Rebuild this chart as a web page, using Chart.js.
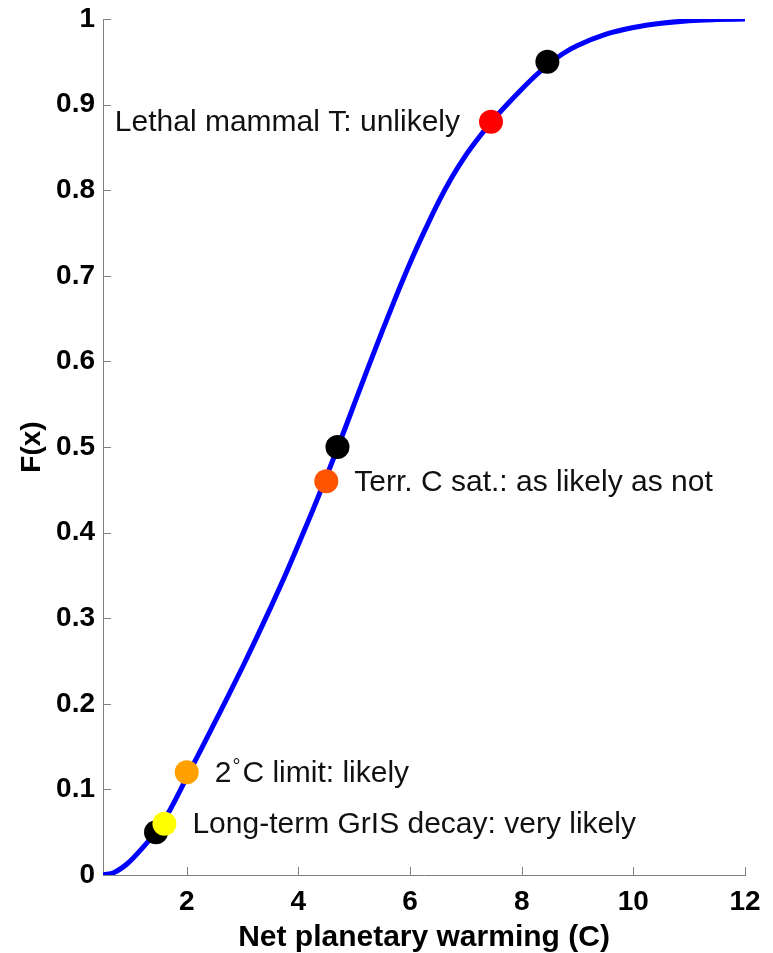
<!DOCTYPE html>
<html>
<head>
<meta charset="utf-8">
<script src="https://cdn.jsdelivr.net/npm/chart.js@4.4.0/dist/chart.umd.min.js"></script>
<style>
  html, body { margin: 0; padding: 0; background: #ffffff; }
  #wrap { width: 773px; height: 953px; }
</style>
</head>
<body>
<div id="wrap"><canvas id="cdf" width="773" height="953"></canvas></div>
<script>
// Cumulative distribution of net planetary warming
const warmingX = [0.5, 0.7, 0.95, 1.2, 1.45, 1.7, 2.0, 2.25, 2.5, 2.75, 3.0, 3.25, 3.5, 3.75, 4.0, 4.25, 4.5, 4.75, 5.0, 5.25, 5.5, 5.75, 6.0, 6.25, 6.5, 6.75, 7.0, 7.25, 7.5, 7.75, 8.0, 8.25, 8.5, 8.75, 9.0, 9.5, 10.0, 10.5, 11.0, 11.5, 12.0];
const cdfY     = [0, 0.003, 0.014, 0.031, 0.051, 0.076, 0.114, 0.146, 0.178, 0.210, 0.243, 0.277, 0.312, 0.348, 0.386, 0.425, 0.465, 0.507, 0.550, 0.593, 0.635, 0.676, 0.715, 0.751, 0.785, 0.815, 0.841, 0.863, 0.883, 0.901, 0.918, 0.934, 0.948, 0.960, 0.969, 0.982, 0.990, 0.995, 0.998, 0.9993, 1.0];

// 5%, 50% and 95% quantiles
const quantileX = [1.45, 4.7, 8.46];
const quantileY = [0.05, 0.5, 0.95];

// Threshold events and their likelihood
const eventLabels = ['Long-term GrIS decay: very likely', '2°C limit: likely', 'Terr. C sat.: as likely as not', 'Lethal mammal T: unlikely'];
const eventX = [1.6, 2.0, 4.5, 7.45];
const eventY = [0.06, 0.12, 0.46, 0.88];

// Axis ticks
const xTicks = [2, 4, 6, 8, 10, 12];
const yTicks = [0, 0.1, 0.2, 0.3, 0.4, 0.5, 0.6, 0.7, 0.8, 0.9, 1];

// ---- styling ----
const eventColors = ['#ffff00', '#ffa000', '#ff5500', '#ff0000'];
const labelOnLeft = [false, false, false, true];
const FONT = '"Liberation Sans", Arial, Helvetica, sans-serif';
const AXIS_GREY = '#808080';

const curveData = warmingX.map((x, i) => ({ x: x, y: cdfY[i] }));
const quantileData = quantileX.map((x, i) => ({ x: x, y: quantileY[i] }));

const eventDatasets = eventX.map((x, i) => ({
  label: eventLabels[i],
  data: [{ x: x, y: eventY[i] }],
  showLine: false,
  pointRadius: 12,
  pointHoverRadius: 12,
  pointBackgroundColor: eventColors[i],
  pointBorderWidth: 0,
  order: 1
}));

// Tick marks drawn inward from the axes
const innerTicks = {
  id: 'innerTicks',
  afterDraw(chart) {
    const { ctx, chartArea, scales } = chart;
    ctx.save();
    ctx.strokeStyle = AXIS_GREY;
    ctx.lineWidth = 1;
    ctx.beginPath();
    xTicks.forEach(v => {
      const px = Math.round(scales.x.getPixelForValue(v)) + 0.5;
      ctx.moveTo(px, chartArea.bottom);
      ctx.lineTo(px, chartArea.bottom - 8);
    });
    yTicks.forEach(v => {
      const py = Math.round(scales.y.getPixelForValue(v)) + 0.5;
      ctx.moveTo(chartArea.left, py);
      ctx.lineTo(chartArea.left + 8, py);
    });
    ctx.stroke();
    ctx.restore();
  }
};

// Event captions beside each coloured marker
const eventCaptions = {
  id: 'eventCaptions',
  afterDatasetsDraw(chart) {
    const { ctx, scales } = chart;
    ctx.save();
    ctx.fillStyle = '#111111';
    ctx.textBaseline = 'middle';
    eventLabels.forEach((text, i) => {
      const px = scales.x.getPixelForValue(eventX[i]);
      const py = scales.y.getPixelForValue(eventY[i]) + 1;
      ctx.font = '30px ' + FONT;
      if (labelOnLeft[i]) {
        ctx.textAlign = 'right';
        ctx.fillText(text, px - 31, py);
        return;
      }
      ctx.textAlign = 'left';
      let cx = px + 28;
      const deg = text.indexOf('°');
      if (deg < 0) {
        ctx.fillText(text, cx, py);
        return;
      }
      const head = text.slice(0, deg);
      const tail = text.slice(deg + 1);
      ctx.fillText(head, cx, py);
      cx += ctx.measureText(head).width + 1;
      ctx.font = '20px ' + FONT;
      ctx.fillText('°', cx, py - 6);
      cx += ctx.measureText('°').width + 2;
      ctx.font = '30px ' + FONT;
      ctx.fillText(tail, cx, py);
    });
    ctx.restore();
  }
};

new Chart(document.getElementById('cdf'), {
  type: 'scatter',
  data: {
    datasets: [
      {
        label: 'F(x)',
        data: curveData,
        showLine: true,
        borderColor: '#0000ff',
        borderWidth: 5,
        pointRadius: 0,
        pointHoverRadius: 0,
        cubicInterpolationMode: 'monotone',
        fill: false,
        order: 10
      },
      {
        label: 'Quantiles',
        data: quantileData,
        showLine: false,
        pointRadius: 12,
        pointHoverRadius: 12,
        pointBackgroundColor: '#000000',
        pointBorderWidth: 0,
        order: 5
      },
      ...eventDatasets
    ]
  },
  options: {
    responsive: false,
    devicePixelRatio: 1,
    animation: false,
    events: [],
    layout: { padding: { top: 19, right: 28, left: 0, bottom: 0 } },
    plugins: {
      legend: { display: false },
      tooltip: { enabled: false }
    },
    scales: {
      x: {
        type: 'linear',
        min: 0.5,
        max: 12,
        afterBuildTicks(scale) { scale.ticks = xTicks.map(v => ({ value: v })); },
        afterFit(scale) {
          scale.height = 78;
          scale.paddingLeft = 0;
          scale.paddingRight = 0;
        },
        grid: { display: true, drawOnChartArea: false, drawTicks: false },
        border: { display: true, color: AXIS_GREY, width: 1 },
        ticks: {
          padding: 10,
          color: '#000000',
          font: { family: FONT, size: 28, weight: 'bold' },
          callback: v => String(v)
        },
        title: {
          display: true,
          text: 'Net planetary warming (C)',
          color: '#000000',
          padding: { top: 0, bottom: 0 },
          font: { family: FONT, size: 30, weight: 'bold', lineHeight: 1 }
        }
      },
      y: {
        type: 'linear',
        min: 0,
        max: 1,
        afterBuildTicks(scale) { scale.ticks = yTicks.map(v => ({ value: v })); },
        afterFit(scale) {
          scale.width = 103;
          scale.paddingTop = 0;
          scale.paddingBottom = 0;
        },
        grid: { display: true, drawOnChartArea: false, drawTicks: false },
        border: { display: true, color: AXIS_GREY, width: 1 },
        ticks: {
          padding: 8,
          color: '#000000',
          font: { family: FONT, size: 28, weight: 'bold' },
          callback: v => String(Math.round(v * 10) / 10)
        },
        title: {
          display: true,
          text: 'F(x)',
          color: '#000000',
          padding: { top: 15, bottom: 0 },
          font: { family: FONT, size: 28, weight: 'bold' }
        }
      }
    }
  },
  plugins: [innerTicks, eventCaptions]
});
</script>
</body>
</html>
